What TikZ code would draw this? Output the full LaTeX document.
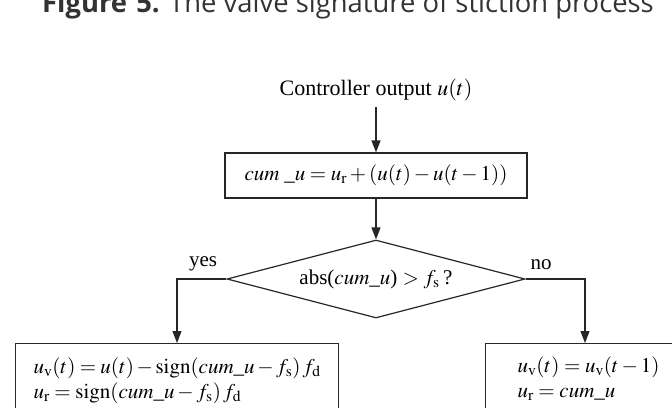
\documentclass[tikz,border=0pt]{standalone}
\usepackage{mathptmx}
\usepackage{fontspec}
\setmainfont{Liberation Serif}
\newfontfamily\titlefont{Open Sans}
\usetikzlibrary{shapes.geometric,arrows.meta}
\tikzset{
  ln/.style={draw=black!85, line width=1.2pt},
  arr/.style={ln, -{Triangle[length=12pt,width=9pt]}},
  procbox/.style={ln, rectangle, inner sep=0pt},
  decision/.style={ln, diamond, aspect=3.82, minimum width=298pt, minimum height=78pt, inner sep=0pt},
  lbl/.style={font=\fontsize{21}{25}\selectfont, inner sep=0pt},
}
\begin{document}
\begin{tikzpicture}[x=1pt,y=1pt]
\clip (0,0) rectangle (672,-407);
\fill[white] (0,0) rectangle (672,-407);
% title (cut by the top edge, as in the reference)
\node[anchor=base west, inner sep=0pt, font=\titlefont\fontsize{27.4}{30}\selectfont, text=black!80] (title) at (42,-12.5) {\textbf{Figure\,\,5.} The valve signature of stiction process};
% nodes
\node[lbl, font=\fontsize{22}{26}\selectfont] (ctrl) at (376,-90) {Controller output $u(t)$};
\node[procbox, lbl, minimum width=302pt, minimum height=45pt] (cum) at (376,-175.5) {$cum\;\_u = u_{\mathrm{r}} + (u(t) - u(t-1))$};
\node[decision, lbl] (dec) at (376,-279) {abs($cum\_u$) $> f_{\mathrm{s}}$\,?};
\node[procbox, lbl, anchor=north west, minimum width=323pt, minimum height=74pt, text width=287pt, align=left, inner xsep=18pt] (left) at (15,-343) {%
$u_{\mathrm{v}}(t) = u(t) - \mathrm{sign}(cum\_u - f_{\mathrm{s}})\,f_{\mathrm{d}}$\\
$u_{\mathrm{r}} = \mathrm{sign}(cum\_u - f_{\mathrm{s}})\,f_{\mathrm{d}}$};
\node[procbox, lbl, anchor=north west, minimum width=220pt, minimum height=70pt, text width=188pt, align=left, inner xsep=32pt] (right) at (485,-343) {%
$u_{\mathrm{v}}(t) = u_{\mathrm{v}}(t-1)$\\
$u_{\mathrm{r}} = cum\_u$};
\coordinate (ylc) at (177,-279);
\coordinate (nrc) at (585,-279);
\node[lbl] (yes) at (203,-264) {yes};
\node[lbl] (no) at (541,-265) {no};
% connectors
\draw[arr] (ctrl.south |- 0,-107) -- (cum.north);
\draw[arr] (cum.south) -- (dec.north);
\draw[arr] (dec.west) -- (ylc) -- (ylc |- left.north);
\draw[arr] (dec.east) -- (nrc) -- (nrc |- right.north);
\end{tikzpicture}
\end{document}
